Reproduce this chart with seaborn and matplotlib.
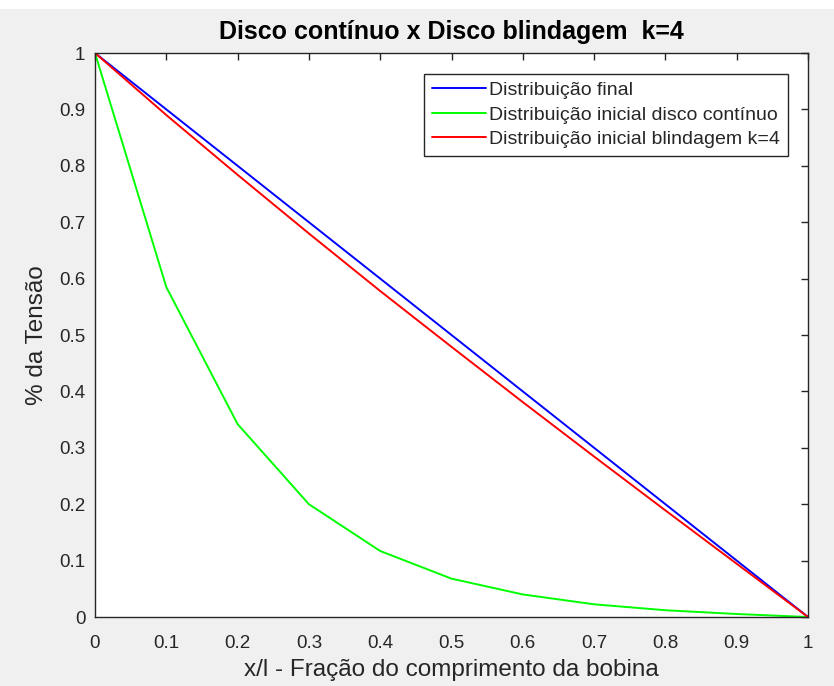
import matplotlib
matplotlib.use("Agg")
import matplotlib.pyplot as plt
import seaborn as sns
import pandas as pd
from matplotlib.patches import Rectangle

x_frac = [0.0, 0.1, 0.2, 0.3, 0.4, 0.5, 0.6, 0.7, 0.8, 0.9, 1.0]
dist_final = [1.0, 0.9, 0.8, 0.7, 0.6, 0.5, 0.4, 0.3, 0.2, 0.1, 0.0]
dist_disco = [1.0, 0.585, 0.342, 0.200, 0.117, 0.068, 0.040, 0.0225, 0.012, 0.0053, 0.0]
dist_blind = [1.0, 0.890, 0.784, 0.680, 0.578, 0.479, 0.381, 0.2845, 0.189, 0.0944, 0.0]

labels = ["Distribuição final",
          "Distribuição inicial disco contínuo",
          "Distribuição inicial blindagem k=4"]
colors = ["#0000ff", "#00ff00", "#ff0000"]
tick_vals = [0, 0.1, 0.2, 0.3, 0.4, 0.5, 0.6, 0.7, 0.8, 0.9, 1]
tick_labels = ["0", "0.1", "0.2", "0.3", "0.4", "0.5", "0.6", "0.7", "0.8", "0.9", "1"]

df = pd.concat([
    pd.DataFrame({"x": x_frac, "y": dist_final, "s": labels[0]}),
    pd.DataFrame({"x": x_frac, "y": dist_disco, "s": labels[1]}),
    pd.DataFrame({"x": x_frac, "y": dist_blind, "s": labels[2]}),
])

sns.set_theme(style="white")
plt.rcParams['font.family'] = ['Liberation Sans', 'DejaVu Sans']

fig = plt.figure(figsize=(8.34, 6.86), dpi=100, facecolor="white")
fig.patches.append(Rectangle((0, 0), 1, (686 - 9) / 686, transform=fig.transFigure,
                             facecolor="#f0f0f0", edgecolor="none", zorder=-10))
ax = fig.add_axes([95 / 834, (686 - 617) / 686, (808 - 95) / 834, (617 - 53) / 686])
ax.set_facecolor("white")

sns.lineplot(data=df, x="x", y="y", hue="s", palette=dict(zip(labels, colors)),
             hue_order=labels, linewidth=1.4, ax=ax, sort=False, estimator=None)

ax.set_xlim(0, 1)
ax.set_ylim(0, 1)
ax.set_xticks(tick_vals)
ax.set_xticklabels(tick_labels)
ax.set_yticks(tick_vals)
ax.set_yticklabels(tick_labels)
ax.tick_params(direction="in", length=5, width=1, colors="#262626", labelsize=13.5,
               top=True, right=True, labeltop=False, labelright=False)
ax.tick_params(axis="x", pad=13)
ax.tick_params(axis="y", pad=7)
for sp in ax.spines.values():
    sp.set_visible(True)
    sp.set_color("#262626")
    sp.set_linewidth(1)

ax.set_xlabel("x/l - Fração do comprimento da bobina", fontsize=17.5, color="#262626", labelpad=5)
ax.set_ylabel("% da Tensão", fontsize=17.5, color="#262626", labelpad=8)
ax.set_title("Disco contínuo x Disco blindagem  k=4", fontsize=18, fontweight="bold",
             color="black", pad=10)

leg = ax.legend(loc="upper right", bbox_to_anchor=(0.972, 0.963), fontsize=14,
                frameon=True, fancybox=False, framealpha=1, edgecolor="#262626",
                borderpad=0.4, handlelength=2.8, handletextpad=0.15, labelspacing=0.35,
                borderaxespad=0)
leg.get_frame().set_linewidth(1)
for t in leg.get_texts():
    t.set_color("#262626")

fig.savefig("out.png", dpi=100, facecolor=fig.get_facecolor())
